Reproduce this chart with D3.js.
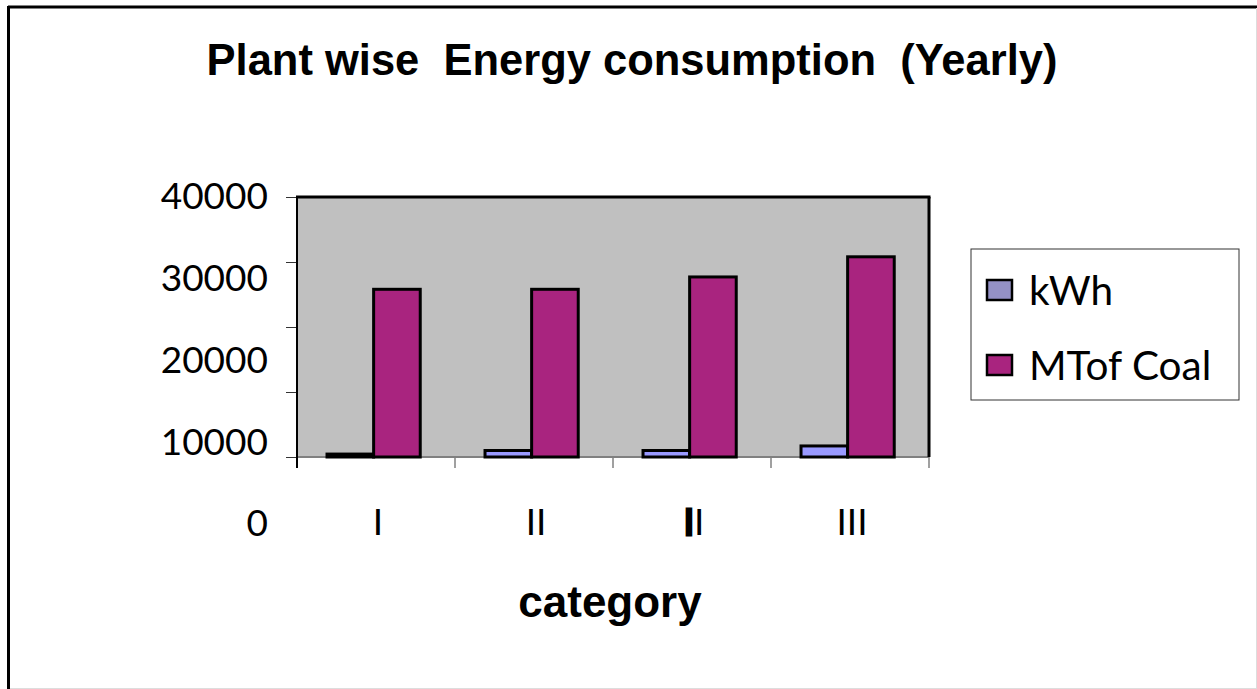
<!DOCTYPE html>
<html lang="en">
  <head>
    <meta charset="utf-8" />
    <title>Plant wise Energy consumption (Yearly)</title>
    <script src="https://d3js.org/d3.v7.min.js"></script>
    <style>
      body {
        margin: 0;
        background: white;
      }
      .title {
        font-family: "Liberation Sans", Arial, sans-serif;
        font-weight: bold;
        font-size: 43.5px;
        white-space: pre;
      }
      .axis-title {
        font-family: "Liberation Sans", Arial, sans-serif;
        font-weight: bold;
        font-size: 44px;
      }
      .label {
        font-family: Lato, "Open Sans", sans-serif;
        font-size: 37px;
      }
      .legend-label {
        font-family: Lato, "Open Sans", sans-serif;
        font-size: 40.5px;
      }
      .bar {
        stroke: black;
        stroke-width: 3;
      }
    </style>
  </head>
  <body>
    <svg width="1257" height="689"></svg>
    <script>
      // data
      const categories = ["I", "II", "II", "III"];
      const series = ["kWh", "MTof Coal"];
      const kwh = [450, 1000, 1000, 1700];
      const coal = [25800, 25800, 27700, 30800];
      const yTicks = [0, 10000, 20000, 30000, 40000];

      const colours = d3
        .scaleOrdinal()
        .domain(series)
        .range(["#9999FF", "#A9247F"]);
      const legendColours = d3
        .scaleOrdinal()
        .domain(series)
        .range(["#9491C6", "#A9247F"]);

      const svg = d3.select("svg"),
        plot = { left: 297, right: 929, top: 197, bottom: 457 };

      // outer frame
      svg.append("line").attr("x1", 8).attr("x2", 1257).attr("y1", 7).attr("y2", 7)
        .attr("stroke", "black").attr("stroke-width", 3);
      svg.append("line").attr("x1", 8.5).attr("x2", 8.5).attr("y1", 6).attr("y2", 689)
        .attr("stroke", "black").attr("stroke-width", 3);
      svg.append("line").attr("x1", 1256.5).attr("x2", 1256.5).attr("y1", 8).attr("y2", 689)
        .attr("stroke", "#ddd").attr("stroke-width", 1);
      svg.append("line").attr("x1", 10).attr("x2", 1257).attr("y1", 688.5).attr("y2", 688.5)
        .attr("stroke", "#ddd").attr("stroke-width", 1);

      const idx = categories.map((d, i) => i);

      const x0 = d3
        .scaleBand()
        .domain(idx)
        .range([plot.left, plot.right])
        .padding(0);

      const x1 = d3
        .scaleBand()
        .domain(series)
        .range([x0.bandwidth() * 0.19, x0.bandwidth() * 0.78]);

      const y = d3
        .scaleLinear()
        .domain([0, 40000])
        .range([plot.bottom, plot.top]);

      // the tick labels sit lower than the ticks in the original
      const yLabel = d3
        .scaleLinear()
        .domain([0, 40000])
        .range([523, 196]);

      // plot background
      svg
        .append("rect")
        .attr("x", plot.left)
        .attr("y", plot.top)
        .attr("width", plot.right - plot.left)
        .attr("height", plot.bottom - plot.top)
        .attr("fill", "#C0C0C0");

      // y ticks
      svg
        .append("g")
        .attr("transform", "translate(" + plot.left + ",0)")
        .call(d3.axisLeft(y).tickValues(yTicks).tickSize(11).tickFormat(""))
        .call((g) => g.select(".domain").remove())
        .call((g) => g.selectAll(".tick line").attr("stroke", "#333"));

      svg
        .append("g")
        .selectAll("text")
        .data(yTicks)
        .join("text")
        .attr("class", "label")
        .attr("x", 268)
        .attr("y", (d) => yLabel(d))
        .attr("dy", "0.36em")
        .attr("text-anchor", "end")
        .text((d) => d);

      // x axis line and ticks at band edges
      const xEdges = idx.map((i) => x0(i)).concat([plot.right]);
      svg.append("line")
        .attr("x1", plot.left).attr("x2", plot.right)
        .attr("y1", plot.bottom).attr("y2", plot.bottom)
        .attr("stroke", "#808080").attr("stroke-width", 2);
      svg
        .append("g")
        .selectAll("line")
        .data(xEdges)
        .join("line")
        .attr("x1", (d) => d)
        .attr("x2", (d) => d)
        .attr("y1", plot.bottom)
        .attr("y2", plot.bottom + 11)
        .attr("stroke", "#808080")
        .attr("stroke-width", 1.5);

      // bars
      const groups = svg
        .append("g")
        .selectAll("g")
        .data(idx)
        .join("g")
        .attr("transform", (i) => "translate(" + x0(i) + ",0)");

      groups
        .selectAll("rect")
        .data((i) => [
          { key: "kWh", value: kwh[i] },
          { key: "MTof Coal", value: coal[i] },
        ])
        .join("rect")
        .attr("class", "bar")
        .attr("x", (d) => x1(d.key))
        .attr("y", (d) => y(d.value))
        .attr("width", x1.bandwidth())
        .attr("height", (d) => y(0) - y(d.value))
        .attr("fill", (d) => colours(d.key));

      // plot frame edges
      svg.append("line")
        .attr("x1", plot.left - 1).attr("x2", plot.right + 1.5)
        .attr("y1", plot.top).attr("y2", plot.top)
        .attr("stroke", "black").attr("stroke-width", 3);
      svg.append("line")
        .attr("x1", plot.right).attr("x2", plot.right)
        .attr("y1", plot.top).attr("y2", plot.bottom)
        .attr("stroke", "black").attr("stroke-width", 3);
      svg.append("line")
        .attr("x1", plot.left).attr("x2", plot.left)
        .attr("y1", plot.top).attr("y2", plot.bottom + 11)
        .attr("stroke", "black").attr("stroke-width", 2);

      // category labels
      const catLabels = svg
        .append("g")
        .selectAll("text")
        .data(idx)
        .join("text")
        .attr("class", "label")
        .attr("x", (i) => x0(i) + x0.bandwidth() / 2 + 2)
        .attr("y", 535)
        .attr("text-anchor", "middle");
      catLabels.each(function (i) {
        const t = d3.select(this);
        if (i === 2) {
          // the first stroke of this label is printed heavy
          t.append("tspan").attr("stroke", "black").attr("stroke-width", 3).text(categories[i][0]);
          t.append("tspan").text(categories[i].slice(1));
        } else {
          t.text(categories[i]);
        }
      });

      // legend
      const legend = svg.append("g").attr("transform", "translate(971,249)");
      legend
        .append("rect")
        .attr("width", 268)
        .attr("height", 151)
        .attr("fill", "white")
        .attr("stroke", "#333")
        .attr("stroke-width", 1);
      const items = legend
        .selectAll("g")
        .data(series)
        .join("g")
        .attr("transform", (d, i) => "translate(16," + (31 + i * 75) + ")");
      items
        .append("rect")
        .attr("width", 25)
        .attr("height", 20)
        .attr("fill", (d) => legendColours(d))
        .attr("stroke", "black")
        .attr("stroke-width", 2.5);
      items
        .append("text")
        .attr("class", "legend-label")
        .attr("x", 42)
        .attr("y", 10)
        .attr("dy", "0.36em")
        .text((d) => d);

      // titles
      svg
        .append("text")
        .attr("class", "title")
        .attr("x", 632)
        .attr("y", 75)
        .attr("text-anchor", "middle")
        .text("Plant wise  Energy consumption  (Yearly)");

      svg
        .append("text")
        .attr("class", "axis-title")
        .attr("x", 610)
        .attr("y", 617)
        .attr("text-anchor", "middle")
        .text("category");
    </script>
  </body>
</html>
